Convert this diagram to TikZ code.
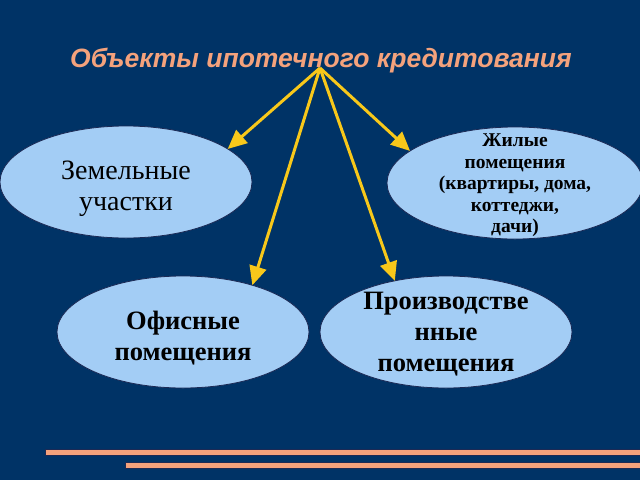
\documentclass[tikz,border=0pt]{standalone}
\usepackage{fontspec}
\setmainfont{Liberation Serif}
\newfontfamily\headfont{Liberation Sans}
\usetikzlibrary{shapes.geometric, arrows.meta, positioning}
\definecolor{slidebg}{HTML}{003366}
\definecolor{ovalfill}{HTML}{A3CDF5}
\definecolor{ovalline}{HTML}{1C2A55}
\definecolor{salmon}{HTML}{F4A27C}
\definecolor{arrowyellow}{HTML}{F8C81A}
\tikzset{
x=1pt, y=-1pt, % one unit is one pixel of the slide, y grows downwards
obj/.style={ellipse, draw=ovalline, line width=0.8pt, fill=ovalfill, inner xsep=0pt, inner ysep=-24pt,
  outer sep=0pt, minimum width=252pt, minimum height=112pt, align=center, text=black}, % the light blue ovals (negative ysep keeps the size fixed)
big/.style={font=\fontsize{28}{31}\selectfont}, % large serif labels
bigbold/.style={font=\fontsize{26.5}{31}\selectfont\bfseries}, % bold labels
small/.style={font=\fontsize{19.5}{21.5}\selectfont\bfseries}, % the crowded oval
arr/.style={draw=arrowyellow, line width=3pt, -{Triangle[length=19pt,width=17pt]}}, % yellow arrows
stripe/.style={fill=salmon, draw=ovalline, line width=0.5pt}, % bottom bars
}
\begin{document}
\begin{tikzpicture}
  \fill[slidebg] (0,0) rectangle (640,480);
  \useasboundingbox (0,0) rectangle (640,480);

  \node[text=salmon, font=\headfont\fontsize{26.5}{30}\selectfont\bfseries\itshape] (title) at (321,61)
    {Объекты ипотечного кредитования};
  \coordinate (top) at (320,68);

  % the strut on the first line pushes the text a little below the middle
  \node[obj, big] (zem) at (126,182) {\rule{0pt}{33pt}Земельные\\участки};
  \node[obj, small, minimum width=256pt] (zhil) at (515,183)
    {\rule{0pt}{18pt}Жилые\\помещения\\(квартиры, дома,\\коттеджи,\\дачи)};
  \node[obj, bigbold] (ofis) at (183,332) {\rule{0pt}{31pt}Офисные\\помещения};
  \node[obj, bigbold] (prom) at (446,332) {\rule{0pt}{21pt}Производстве\\нные\\помещения};

  \draw[arr] (top) -- (zem.18);
  \draw[arr] (top) -- (ofis.34);
  \draw[arr] (top) -- (prom.135);
  \draw[arr] (top) -- (zhil.163);

  \draw[stripe] (45,449) rectangle (641,455);
  \draw[stripe] (125,462) rectangle (641,468);
\end{tikzpicture}
\end{document}
